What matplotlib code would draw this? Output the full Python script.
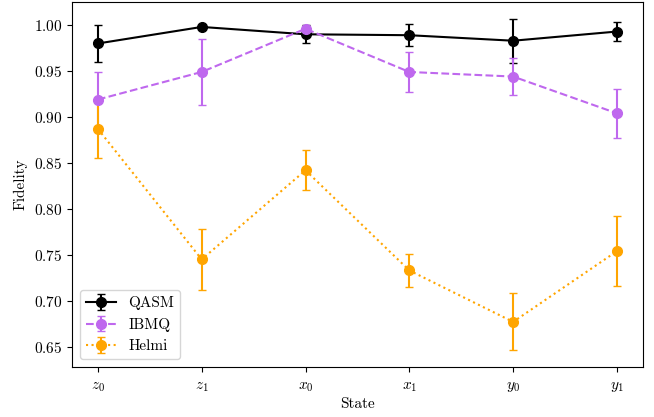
import matplotlib
matplotlib.use("Agg")
import matplotlib.pyplot as plt
import numpy as np

plt.rcParams['font.family'] = 'serif'
plt.rcParams['font.serif'] = ['cmr10']
plt.rcParams['mathtext.fontset'] = 'cm'
plt.rcParams['axes.formatter.use_mathtext'] = True
plt.rcParams['font.size'] = 11

states = [r'$z_0$', r'$z_1$', r'$x_0$', r'$x_1$', r'$y_0$', r'$y_1$']

qasm = [0.980, 0.998, 0.990, 0.989, 0.983, 0.993]
qasm_err = [0.020, 0.002, 0.010, 0.012, 0.024, 0.010]

ibmq = [0.919, 0.949, 0.996, 0.949, 0.944, 0.904]
ibmq_err = [0.030, 0.036, 0.003, 0.022, 0.020, 0.027]

helmi = [0.887, 0.745, 0.842, 0.733, 0.677, 0.754]
helmi_err = [0.032, 0.033, 0.022, 0.018, 0.031, 0.038]

x = np.arange(len(states))

fig, ax = plt.subplots(figsize=(6.54, 4.17), dpi=100)
ax.errorbar(x, qasm, yerr=qasm_err, fmt='o-', color='black',
            markersize=7, capsize=3, label='QASM')
ax.errorbar(x, ibmq, yerr=ibmq_err, fmt='o--', color='#bf68ee',
            markersize=7, capsize=3, label='IBMQ')
ax.errorbar(x, helmi, yerr=helmi_err, fmt='o:', color='orange',
            markersize=7, capsize=3, label='Helmi')

ax.set_xticks(x)
ax.set_xticklabels(states)
ax.tick_params(axis='x', pad=6)
ax.set_xlabel('State', labelpad=2)
ax.set_ylabel('Fidelity')
ax.legend(loc='lower left')

fig.subplots_adjust(left=0.11, right=0.983, top=0.995, bottom=0.12)
fig.savefig('out.png')
